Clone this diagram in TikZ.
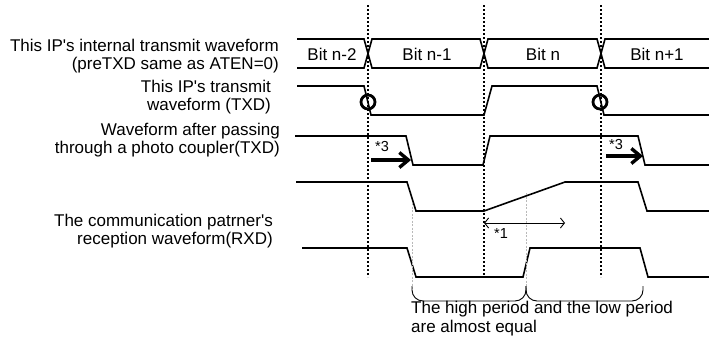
\documentclass[tikz,border=0pt]{standalone}
\usepackage{fontspec}
\setmainfont{Liberation Sans}
\usetikzlibrary{arrows.meta}

\begin{document}
\begin{tikzpicture}[
		x=1pt, y=-1pt,
		every node/.style={inner sep=0pt, font=\fontsize{17}{18.5}\selectfont},
		rowlabel/.style={anchor=east, align=right},
		note/.style={font=\fontsize{14.5}{16}\selectfont},
		wave/.style={line width=1.6pt, line join=miter},
		bitline/.style={line width=1.3pt, dash pattern=on 2.4pt off 1.6pt},
		guide/.style={gray!55, line width=0.8pt, dash pattern=on 2pt off 1.5pt},
		sample/.style={circle, draw, line width=2.8pt, minimum size=14pt},
		delay/.style={line width=3.4pt, -{Straight Barb[length=9pt, width=15pt]}},
		span/.style={line width=0.9pt, {Straight Barb[length=4pt, width=10pt]}-{Straight Barb[length=4pt, width=10pt]}},
		brace/.style={line width=0.9pt, rounded corners=11pt},
		]
		\useasboundingbox (0,0) rectangle (709,338);

		% row labels
		\node [rowlabel] (lblbus) at (279,56) {This IP\textquotesingle s internal transmit waveform\\(preTXD same as ATEN=0)};
		\node [rowlabel] (lbltxd) at (271,97) {This IP\textquotesingle s transmit\\waveform (TXD)};
		\node [rowlabel] (lblpc) at (280,140) {Waveform after passing\\through a photo coupler(TXD)};
		\node [rowlabel] (lblrxd) at (273,231) {The communication patrner\textquotesingle s\\reception waveform(RXD)};

		% bit boundaries
		\foreach \x in {368,484,601}
			\draw [bitline] (\x,5) -- (\x,277);

		% bus
		\draw [wave] (297,39) -- (364,39) -- (372,68) -- (480,68) -- (488,39) -- (597,39) -- (605,68) -- (709,68);
		\draw [wave] (297,68) -- (364,68) -- (372,39) -- (480,39) -- (488,68) -- (597,68) -- (605,39) -- (709,39);
		\node (bita) at (332,54) {Bit n-2};
		\node (bitb) at (427,54) {Bit n-1};
		\node (bitc) at (543,54) {Bit n};
		\node (bitd) at (657,54) {Bit n+1};

		% TXD
		\draw [wave] (297,86) -- (364,86) -- (371,115) -- (484,115) -- (492,86) -- (597,86) -- (604,115) -- (709,115);
		\node [sample] (sa) at (368,102) {};
		\node [sample] (sb) at (600,102) {};

		% after photo coupler
		\draw [wave] (295,136) -- (406,136) -- (413,165) -- (483,165) -- (490,136) -- (638,136) -- (645,165) -- (709,165);
		\draw [delay] (371,160) -- (411,160);
		\draw [delay] (606,156) -- (643,156);
		\node [note] (dla) at (382,147) {*3};
		\node [note] (dlb) at (616,145) {*3};

		% slow rise
		\draw [wave] (296,182) -- (407,182) -- (416,211) -- (484,211) -- (565,182) -- (638,182) -- (647,211) -- (709,211);
		\draw [span] (484,223) -- (565,223);
		\node [note] (rise) at (501,234) {*1};

		% RXD
		\draw [wave] (302,248) -- (407,248) -- (416,277) -- (523,277) -- (530,248) -- (640,248) -- (648,277) -- (709,277);

		% periods
		\draw [guide] (412,203) -- (412,293);
		\draw [guide] (526,193) -- (526,293);
		\draw [brace] (412,286) -- (412,301) -- (526,301) -- (526,286);
		\draw [brace] (526,286) -- (526,301) -- (643,301) -- (643,286);
		\node [anchor=north west, align=left] (equal) at (411,301) {The high period and the low period\\are almost equal};
	\end{tikzpicture}
\end{document}
